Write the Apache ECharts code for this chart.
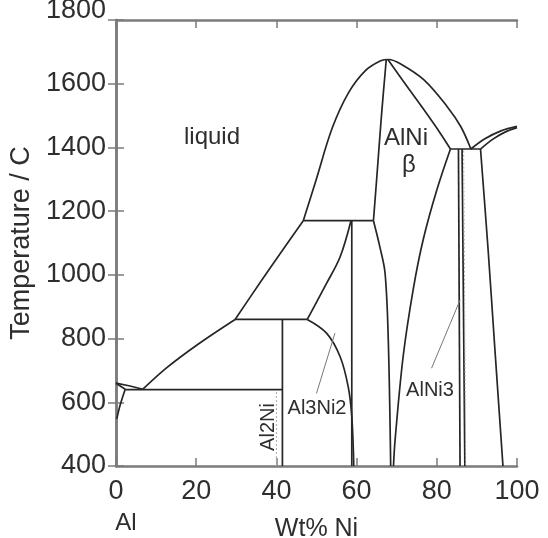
<!DOCTYPE html>
<html>
<head>
<meta charset="utf-8">
<title>Al-Ni phase diagram</title>
<script src="https://cdn.jsdelivr.net/npm/echarts/dist/echarts.min.js"></script>
<style>
  html, body { margin: 0; padding: 0; background: #fff; }
  #main { width: 548px; height: 538px; }
</style>
</head>
<body>
<div id="main"></div>
<script>
// tick values of the two axes
const xTicks = [0, 20, 40, 60, 80, 100];
const yTicks = [400, 600, 800, 1000, 1200, 1400, 1600, 1800];

// phase boundaries, [wt% Ni, temperature C]
const alLiquidus = [[0, 660], [3.5, 651], [6.7, 641]];
const alSolidus = [[0, 660], [2.3, 641]];
const alSolvus = [[2.3, 641], [1.0, 590], [0.2, 548]];
const eutectic640 = [[2.3, 640], [41.5, 640]];
const liquidusLow = [[6.7, 641], [12.6, 708], [20.9, 786], [29.7, 860]];
const liquidusMid = [[29.7, 860], [35.9, 975], [41, 1068], [46.7, 1170]];
const liquidusDome = [[46.7, 1170], [49.9, 1298], [53.9, 1460], [58, 1572], [62.2, 1641], [66, 1672], [68, 1676],
                      [71, 1662], [76.8, 1612], [82.6, 1528], [86, 1465], [88.5, 1395]];
const liquidusNi = [[88.5, 1395], [92, 1427], [96, 1452], [100, 1466]];
const solidusNi = [[90.9, 1395], [94, 1426], [97, 1448], [100, 1462]];
const al3NiLine = [[41.5, 400], [41.5, 860]];
const peritectic860 = [[29.7, 860], [47.7, 860]];
const peritectic1170 = [[46.7, 1170], [64.2, 1170]];
const al3Ni2Upper = [[47.7, 860], [52.5, 973], [55.9, 1057], [58.6, 1170]];
const al3Ni2Lower = [[47.7, 860], [52.5, 817], [55.9, 743], [57.9, 649], [58.8, 555], [59.3, 400]];
const al3Ni2Right = [[58.8, 400], [58.8, 1170]];
const betaLeftUpper = [[67.4, 1676], [66.2, 1500], [65, 1300], [64.2, 1170]];
const betaLeftLower = [[64.2, 1170], [65.8, 1088], [67.1, 1005], [67.9, 796], [68.5, 400]];
const betaRightUpper = [[67.8, 1676], [72.6, 1591], [76.8, 1518], [80.9, 1444], [83.4, 1395]];
const betaRightLower = [[83.4, 1395], [80, 1266], [76.6, 1110], [74.1, 953], [71.6, 743], [69.6, 482], [69.2, 400]];
const eutectic1395 = [[83.4, 1395], [90.9, 1395]];
const ni3AlLeft = [[85.4, 1395], [85.8, 400]];
const ni3AlRight = [[86.3, 1395], [87.0, 400]];
const ni3AlDotted = [[86.7, 1390], [87.2, 400]];
const niSolvus = [[90.9, 1395], [92.8, 1078], [94.5, 764], [96.5, 400]];
const al2NiDotted = [[40, 400], [40, 635]];
const al3Ni2Leader = [[50, 628], [54.6, 817]];
const alNi3Leader = [[78.7, 707], [85.8, 921]];

const solid = [
    alLiquidus, alSolidus, eutectic640, al3NiLine, peritectic860, peritectic1170,
    al3Ni2Right, eutectic1395, ni3AlLeft, ni3AlRight
];
const curved = [
    alSolvus, liquidusLow, liquidusMid, liquidusDome, liquidusNi, solidusNi,
    al3Ni2Upper, al3Ni2Lower, betaLeftUpper, betaLeftLower, betaRightUpper,
    betaRightLower, niSolvus
];
const thin = [al3Ni2Leader, alNi3Leader];
const dotted = [al2NiDotted, ni3AlDotted];

function lineSeries(data, smooth, style) {
    return {
        type: 'line',
        data: data,
        smooth: smooth,
        showSymbol: false,
        symbol: 'none',
        silent: true,
        lineStyle: style
    };
}

let series = [];
solid.forEach(d => series.push(lineSeries(d, false, { color: '#262626', width: 1.7 })));
curved.forEach(d => series.push(lineSeries(d, 0.35, { color: '#262626', width: 1.7 })));
thin.forEach(d => series.push(lineSeries(d, false, { color: '#777', width: 1 })));
dotted.forEach(d => series.push(lineSeries(d, false, { color: '#aaa', width: 1, type: [2, 2] })));

const axisColor = '#7b7b7b';
const tickFont = { fontFamily: '"Liberation Sans", Arial, sans-serif', fontSize: 27, color: '#2e2e2e' };

let myChart = echarts.init(document.getElementById('main'), null, { renderer: 'canvas' });
let option = {
    animation: false,
    backgroundColor: '#fff',
    grid: { left: 116, right: 31, top: 20, bottom: 72, outerBoundsMode: 'none', containLabel: false },
    xAxis: [{
        type: 'value',
        min: xTicks[0],
        max: xTicks[xTicks.length - 1],
        interval: xTicks[1] - xTicks[0],
        position: 'bottom',
        name: 'Wt% Ni',
        nameLocation: 'middle',
        nameGap: 51,
        nameTextStyle: { fontFamily: '"Liberation Sans", Arial', fontSize: 25, color: '#2e2e2e' },
        axisLine: { lineStyle: { color: axisColor, width: 2.5 } },
        axisTick: { inside: true, length: 8, lineStyle: { color: axisColor, width: 1.5 } },
        axisLabel: Object.assign({ margin: 12 }, tickFont),
        splitLine: { show: false }
    }, {
        type: 'value',
        min: xTicks[0],
        max: xTicks[xTicks.length - 1],
        interval: xTicks[1] - xTicks[0],
        position: 'top',
        axisLine: { lineStyle: { color: axisColor, width: 2.5 } },
        axisTick: { inside: true, length: 8, lineStyle: { color: axisColor, width: 1.5 } },
        axisLabel: { show: false },
        splitLine: { show: false }
    }],
    yAxis: [{
        type: 'value',
        min: yTicks[0],
        max: yTicks[yTicks.length - 1],
        interval: yTicks[1] - yTicks[0],
        position: 'left',
        name: 'Temperature / C',
        nameLocation: 'middle',
        nameGap: 72,
        nameRotate: 90,
        nameTextStyle: { fontFamily: '"Liberation Sans", Arial', fontSize: 27, color: '#2e2e2e' },
        axisLine: { lineStyle: { color: axisColor, width: 2.5 } },
        axisTick: { inside: true, length: 8, lineStyle: { color: axisColor, width: 1.5 } },
        axisLabel: Object.assign({
            margin: 10,
            formatter: function (v) {
                return v === yTicks[yTicks.length - 1] ? '{top|' + v + '}' : String(v);
            },
            rich: { top: Object.assign({ padding: [0, 0, 18, 0] }, tickFont) }
        }, tickFont),
        splitLine: { show: false }
    }, {
        type: 'value',
        min: yTicks[0],
        max: yTicks[yTicks.length - 1],
        interval: yTicks[1] - yTicks[0],
        position: 'right',
        axisLine: { lineStyle: { color: axisColor, width: 2.5 } },
        axisTick: { inside: true, length: 8, lineStyle: { color: axisColor, width: 1.5 } },
        axisLabel: { show: false },
        splitLine: { show: false }
    }],
    graphic: [
        { type: 'text', x: 212, y: 137, style: { text: 'liquid', font: '24px "Liberation Sans", Arial', fill: '#2e2e2e', align: 'center', verticalAlign: 'middle' } },
        { type: 'text', x: 406, y: 138, style: { text: 'AlNi', font: '24px "Liberation Sans", Arial', fill: '#2e2e2e', align: 'center', verticalAlign: 'middle' } },
        { type: 'text', x: 409, y: 165, style: { text: 'β', font: '24px "Liberation Sans", Arial', fill: '#2e2e2e', align: 'center', verticalAlign: 'middle' } },
        { type: 'text', x: 317, y: 408, style: { text: 'Al3Ni2', font: '20px "Liberation Sans", Arial', fill: '#2e2e2e', align: 'center', verticalAlign: 'middle' } },
        { type: 'text', x: 430, y: 390, style: { text: 'AlNi3', font: '20px "Liberation Sans", Arial', fill: '#2e2e2e', align: 'center', verticalAlign: 'middle' } },
        { type: 'text', x: 268, y: 427, rotation: Math.PI / 2, style: { text: 'Al2Ni', font: '20px "Liberation Sans", Arial', fill: '#2e2e2e', align: 'center', verticalAlign: 'middle' } },
        { type: 'text', x: 126, y: 523, style: { text: 'Al', font: '24px "Liberation Sans", Arial', fill: '#2e2e2e', align: 'center', verticalAlign: 'middle' } }
    ],
    series: series
};
myChart.setOption(option);
</script>
</body>
</html>
